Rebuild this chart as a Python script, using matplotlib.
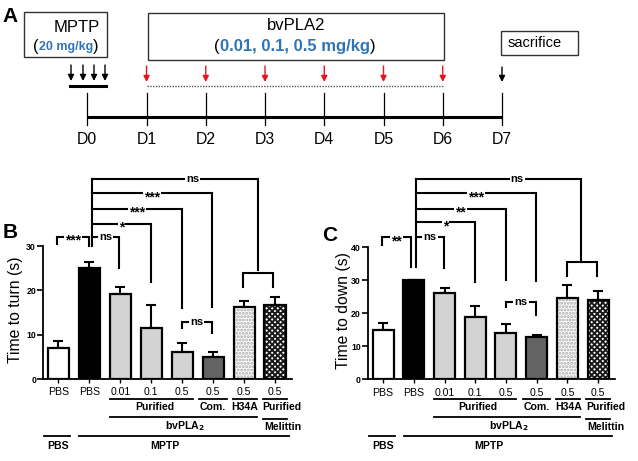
import matplotlib
matplotlib.use('Agg')
import matplotlib.pyplot as plt
from matplotlib.transforms import blended_transform_factory
from matplotlib.patches import Rectangle

plt.rcParams['font.family'] = ['Liberation Sans', 'DejaVu Sans']
plt.rcParams['hatch.linewidth'] = 1.4

# ---------------- data ----------------
day_labels = ['D0', 'D1', 'D2', 'D3', 'D4', 'D5', 'D6', 'D7']
days = [0, 1, 2, 3, 4, 5, 6, 7]
mptp_injections = [-0.275, -0.073, 0.113, 0.299]   # four MPTP injections on D0
bv_injection_days = [1, 2, 3, 4, 5, 6]
sacrifice_day = 7

groups = ['PBS', 'PBS', '0.01', '0.1', '0.5', '0.5', '0.5', '0.5']
turn_mean = [6.9, 25.1, 19.3, 11.4, 6.2, 5.0, 16.2, 16.6]
turn_sem = [1.7, 1.2, 1.5, 5.2, 2.0, 1.0, 1.4, 2.0]
down_mean = [14.9, 29.9, 26.1, 18.7, 13.9, 12.8, 24.5, 23.9]
down_sem = [2.1, 0.2, 1.5, 3.6, 2.9, 0.7, 3.9, 2.9]

# ---------------- figure ----------------
W, H = 638, 461
fig = plt.figure(figsize=(W / 100, H / 100), dpi=100)

# Panel A: full-figure axes, x in days, y in pixels (downwards)
axA = fig.add_axes([0, 0, 1, 1], zorder=0)
d0px, dpx = 87.3, 59.24
axA.set_xlim(-d0px / dpx, (W - d0px) / dpx)
axA.set_ylim(H, 0)
axA.axis('off')

def px2d(px):
    return (px - d0px) / dpx

blue = '#2f74b5'
axA.text(px2d(10), 16, 'A', fontsize=15, fontweight='bold', ha='center', va='center')

# MPTP box
axA.add_patch(Rectangle((px2d(24), 12), px2d(107) - px2d(24), 45, fill=False, lw=1.0, ec='#333333'))
axA.text(px2d(76.5), 27, 'MPTP', fontsize=12, ha='center', va='center')
t1 = axA.text(px2d(33), 47, '(', fontsize=12, ha='left', va='center')
t2 = axA.annotate('20 mg/kg', xy=(1, 0.5), xycoords=t1, va='center', ha='left',
                  fontsize=9, fontweight='bold', color=blue)
axA.annotate(')', xy=(1, 0.5), xycoords=t2, va='center', ha='left', fontsize=12)

# bvPLA2 box
axA.add_patch(Rectangle((px2d(148), 13), px2d(444) - px2d(148), 47, fill=False, lw=1.0, ec='#333333'))
axA.text(px2d(296), 26, 'bvPLA2', fontsize=12, ha='center', va='center')
t1 = axA.text(px2d(214), 47, '(', fontsize=12, ha='left', va='center')
t2 = axA.annotate('0.01, 0.1, 0.5 mg/kg', xy=(1, 0.5), xycoords=t1, va='center', ha='left',
                  fontsize=12, fontweight='bold', color=blue)
axA.annotate(')', xy=(1, 0.5), xycoords=t2, va='center', ha='left', fontsize=12)

# sacrifice box
axA.add_patch(Rectangle((px2d(501), 31), px2d(578) - px2d(501), 24, fill=False, lw=1.0, ec='#333333'))
axA.text(px2d(535), 43, 'sacrifice', fontsize=10.5, ha='center', va='center')

# arrows
akw = dict(arrowstyle='-|>', lw=1.0, mutation_scale=9, shrinkA=0, shrinkB=0)
for d in mptp_injections:
    axA.annotate('', xy=(d, 81), xytext=(d, 65), arrowprops=dict(color='black', **akw))
axA.plot([mptp_injections[0] - 0.02, mptp_injections[-1] + 0.02], [86, 86], color='black', lw=2.2)
for d in bv_injection_days:
    axA.annotate('', xy=(d, 82), xytext=(d, 66), arrowprops=dict(color='#e8141b', **akw))
axA.plot([bv_injection_days[0], bv_injection_days[-1]], [86, 86], color='#555555', lw=1.0, ls=(0, (1, 1)))
axA.annotate('', xy=(sacrifice_day, 82), xytext=(sacrifice_day, 67),
             arrowprops=dict(color='black', **akw))

# timeline
axA.plot([days[0], days[-1]], [116.7, 116.7], color='black', lw=2.2, solid_capstyle='butt')
for d, lab in zip(days, day_labels):
    axA.plot([d, d], [93, 125], color='black', lw=0.9)
    axA.text(d, 139, lab, fontsize=11.3, ha='center', va='center')


# ---------------- panels B and C ----------------
faces = ['white', 'black', '#d3d3d3', '#d3d3d3', '#d3d3d3', '#636363', 'white', 'white']
hatches = [None] * 6 + ['.....', 'xxxxxx']
hatch_colors = [None] * 6 + ['#a8a8a8', '#1a1a1a']
x = list(range(len(groups)))


def make_panel(rect_px, means, sems, ytop, yticks, ylabel, letter, letter_xy, ylab_x,
               brackets, main_vert, cross):
    l, r, b, t = rect_px
    ax = fig.add_axes([l / W, 1 - b / H, (r - l) / W, (b - t) / H], zorder=2)
    ax.patch.set_alpha(0)
    ax.set_xlim(-0.5, 7.55)
    ax.set_ylim(0, ytop)
    w = 0.68
    # hatch fills
    for i in range(len(x)):
        if hatches[i]:
            ax.bar(x[i], means[i], width=w, color='white', hatch=hatches[i],
                   edgecolor=hatch_colors[i], linewidth=0, zorder=2)
    ax.bar(x, means, width=w, color=[f if h is None else 'none' for f, h in zip(faces, hatches)],
           edgecolor='black', linewidth=1.6, zorder=3)
    ax.errorbar(x, means, yerr=[[0] * len(sems), sems], fmt='none', ecolor='black',
                elinewidth=1.5, capsize=3.3, capthick=1.5, zorder=1)
    for s in ['top', 'right']:
        ax.spines[s].set_visible(False)
    ax.spines['left'].set_linewidth(1.3)
    ax.spines['bottom'].set_linewidth(1.3)
    ax.spines['left'].set_bounds(0, ytop)
    ax.set_yticks(yticks)
    ax.tick_params(axis='y', direction='out', length=4, width=1.2, labelsize=6.3, pad=1)
    for tl in ax.get_yticklabels():
        tl.set_fontweight('bold')
    ax.set_xticks(x)
    ax.set_xticklabels(groups)
    ax.tick_params(axis='x', direction='out', length=3, width=1.0, labelsize=7.6, pad=3)
    ax.set_ylabel(ylabel, fontsize=11.3)
    ax.yaxis.set_label_coords(ylab_x, 0.52)
    axA.text(px2d(letter_xy[0]), letter_xy[1], letter, fontsize=15, fontweight='bold',
             ha='center', va='center')

    # significance brackets
    lw = 1.5
    kw = dict(color='black', lw=lw, clip_on=False, solid_joinstyle='miter', zorder=4)
    mx, my0, my1 = main_vert
    ax.plot([mx, mx], [my0, my1], **kw)
    for (x1, x2, y, d1, d2, lab, lx) in brackets:
        if d1 is None:
            ax.plot([x1, x2, x2], [y, y, d2], **kw)
        else:
            ax.plot([x1, x1, x2, x2], [d1, y, y, d2], **kw)
        if lx is None:
            lx = (x1 + x2) / 2
        star = '*' in lab
        ax.text(lx, y - (0.03 * ytop if star else 0), lab, ha='center', va='center',
                fontsize=10 if star else 8, fontweight='bold', clip_on=False, zorder=5,
                bbox=dict(facecolor='white', edgecolor='none', pad=0.8))
    cx1, cx2, cy, cd = cross
    ax.plot([cx1, cx1, cx2, cx2], [cd, cy, cy, cd], **kw)

    # group annotations below axis
    tr = blended_transform_factory(ax.transData, axA.transData)
    lkw = dict(color='black', lw=1.3, transform=tr, clip_on=False)
    tkw = dict(transform=tr, fontsize=7.6, fontweight='bold', va='center', clip_on=False)
    ax.plot([1.66, 4.34], [399.3, 399.3], **lkw)
    ax.plot([4.54, 5.45], [399.3, 399.3], **lkw)
    ax.plot([5.63, 6.41], [399.3, 399.3], **lkw)
    ax.plot([6.6, 7.38], [399.3, 399.3], **lkw)
    ax.text(3.1, 407, 'Purified', ha='center', **tkw)
    ax.text(5.0, 407, 'Com.', ha='center', **tkw)
    ax.text(6.03, 407, 'H34A', ha='center', **tkw)
    ax.text(6.6, 407, 'Purified', ha='left', **tkw)
    ax.plot([1.66, 6.41], [417.3, 417.3], **lkw)
    ax.plot([6.6, 7.38], [418.6, 418.6], **lkw)
    ax.text(4.1, 426, r'bvPLA$_\mathbf{2}$', ha='center', **tkw)
    ax.text(6.65, 426.5, 'Melittin', ha='left', **tkw)
    ax.plot([-0.47, 0.38], [436.2, 436.2], **lkw)
    ax.plot([0.68, 7.46], [436.2, 436.2], **lkw)
    ax.text(0.0, 445.5, 'PBS', ha='center', **tkw)
    ax.text(3.45, 445.5, 'MPTP', ha='center', **tkw)
    return ax


brackets_B = [
    (-0.05, 0.99, 32.1, 30.5, 30.1, '***', None),
    (1.08, 1.95, 32.1, None, 25.1, 'ns', None),
    (1.08, 3.0, 35.1, None, 22.0, '*', None),
    (1.08, 4.0, 38.4, None, 16.0, '***', None),
    (1.08, 4.96, 41.9, None, 16.3, '***', None),
    (1.08, 6.45, 45.1, None, 24.6, 'ns', 4.34),
    (3.98, 4.95, 12.8, 11.4, 10.3, 'ns', None),
]
make_panel((43, 292, 379, 246.1), turn_mean, turn_sem, 30, [0, 10, 20, 30],
           'Time to turn (s)', 'B', (10.5, 232), -0.08,
           brackets_B, (1.08, 30.0, 45.1), (5.95, 6.93, 23.9, 20.8))

brackets_C = [
    (-0.04, 0.91, 43.0, 40.7, 34.1, '**', None),
    (1.07, 1.98, 43.0, None, 33.8, 'ns', None),
    (1.07, 2.99, 47.5, None, 29.3, '*', None),
    (1.07, 3.99, 51.5, None, 29.9, '**', None),
    (1.07, 4.98, 56.2, None, 29.6, '***', None),
    (1.07, 6.45, 60.7, None, 35.6, 'ns', 4.37),
    (4.01, 4.98, 23.5, 22.0, 19.5, 'ns', None),
]
make_panel((367.7, 615, 379.3, 247), down_mean, down_sem, 40, [0, 10, 20, 30, 40],
           'Time to down (s)', 'C', (330, 235), -0.068,
           brackets_C, (1.07, 34.1, 60.7), (5.98, 6.98, 35.5, 31.1))

fig.savefig('out.png', dpi=100)
